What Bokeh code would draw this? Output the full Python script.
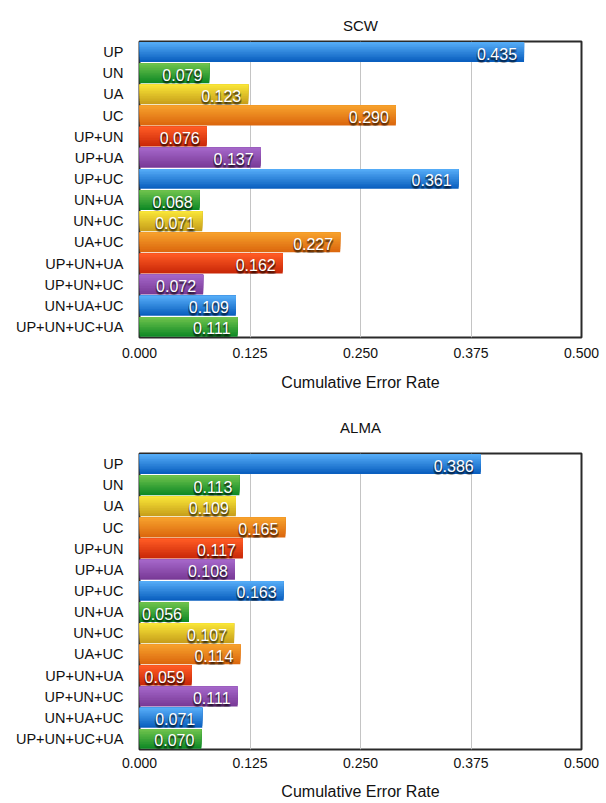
from bokeh.plotting import figure
from bokeh.models import ColumnDataSource, FactorRange, Range1d, FixedTicker
from bokeh.transform import dodge
from bokeh.layouts import column
from bokeh.core.properties import value
from bokeh.embed import file_html
from bokeh.resources import INLINE

# ---- data ----
categories = ["UP", "UN", "UA", "UC", "UP+UN", "UP+UA", "UP+UC", "UN+UA",
              "UN+UC", "UA+UC", "UP+UN+UA", "UP+UN+UC", "UN+UA+UC", "UP+UN+UC+UA"]
scw_values = [0.435, 0.079, 0.123, 0.290, 0.076, 0.137, 0.361, 0.068,
              0.071, 0.227, 0.162, 0.072, 0.109, 0.111]
alma_values = [0.386, 0.113, 0.109, 0.165, 0.117, 0.108, 0.163, 0.056,
               0.107, 0.114, 0.059, 0.111, 0.071, 0.070]
x_ticks = [0.0, 0.125, 0.25, 0.375, 0.5]
x_tick_labels = ["0.000", "0.125", "0.250", "0.375", "0.500"]
axis_title = "Cumulative Error Rate"

# ---- style ----
palette = [  # (top, bottom) gradient colours
    ("#54abf6", "#0a5fbf"),  # blue
    ("#6ec24c", "#0f8a26"),  # green
    ("#f8e437", "#c89f1b"),  # yellow
    ("#f6a02c", "#dc680e"),  # orange
    ("#ff5b24", "#c92808"),  # red
    ("#a466c8", "#793a97"),  # purple
]
FONT = "Liberation Sans"
N_LAYERS = 12
BAR_H = 0.94


def h2rgb(h):
    h = h.lstrip("#")
    return tuple(int(h[i:i + 2], 16) for i in (0, 2, 4))


def mix(c_bottom, c_top, t):
    a, b = h2rgb(c_bottom), h2rgb(c_top)
    return "#%02x%02x%02x" % tuple(int(round(a[i] + (b[i] - a[i]) * t)) for i in range(3))


def make_chart(title, vals, height, top_border, bottom_border, tick_standoff, lab_standoff,
               title_standoff, title_valign):
    p = figure(width=606, height=height,
               y_range=FactorRange(factors=categories[::-1]),
               x_range=Range1d(0, 0.5),
               output_backend="svg", toolbar_location=None, title=title,
               min_border_left=139, min_border_right=25,
               min_border_top=top_border, min_border_bottom=bottom_border)
    p.title.text_font = FONT
    p.title.text_font_size = "15px"
    p.title.text_font_style = "normal"
    p.title.text_color = "#111111"
    p.title.align = "center"
    p.title.vertical_align = title_valign
    p.title.standoff = title_standoff

    # gradient bars: nested layers anchored at the bar top
    for k in range(N_LAYERS):
        frac = (N_LAYERS - k) / N_LAYERS
        hk = BAR_H * frac
        off = BAR_H / 2 - hk / 2
        t = k / (N_LAYERS - 1)
        cols = [mix(palette[i % 6][1], palette[i % 6][0], t) for i in range(len(categories))]
        src = ColumnDataSource(dict(cat=categories, val=vals, col=cols))
        p.hbar(y=dodge("cat", off, range=p.y_range), right="val", left=0, height=hk,
               fill_color="col", line_color=None, source=src)

    labels = ["%.3f" % v for v in vals]
    lsrc = ColumnDataSource(dict(cat=categories, val=vals, lab=labels))
    # blurred shadow
    for dx in (-1, 0, 1):
        for dy in (1, 2, 3):
            p.text(x="val", y="cat", text="lab", source=lsrc, text_align="right",
                   text_baseline="middle", x_offset=-7 + dx, y_offset=1.5 + dy,
                   text_color="black", text_alpha=0.17,
                   text_font=value(FONT), text_font_size="16px")
    p.text(x="val", y="cat", text="lab", source=lsrc, text_align="right",
           text_baseline="middle", x_offset=-7, y_offset=1.5,
           text_color="white", text_font=value(FONT), text_font_size="16px")

    p.outline_line_color = "#2a2a2a"
    p.outline_line_width = 2

    p.ygrid.grid_line_color = None
    p.xgrid.ticker = FixedTicker(ticks=x_ticks)
    p.xgrid.grid_line_color = "#c4c4c4"
    p.xgrid.grid_line_width = 1

    xa = p.xaxis[0]
    xa.ticker = FixedTicker(ticks=x_ticks)
    xa.major_label_overrides = {t: l for t, l in zip(x_ticks, x_tick_labels)}
    xa.axis_line_color = None
    xa.major_tick_line_color = None
    xa.minor_tick_line_color = None
    xa.major_tick_out = 0
    xa.major_tick_in = 0
    xa.major_label_standoff = tick_standoff
    xa.major_label_text_font = FONT
    xa.major_label_text_font_size = "14px"
    xa.major_label_text_color = "#111111"
    xa.axis_label = axis_title
    xa.axis_label_text_font = FONT
    xa.axis_label_text_font_size = "16px"
    xa.axis_label_text_font_style = "normal"
    xa.axis_label_text_color = "#111111"
    xa.axis_label_standoff = lab_standoff

    ya = p.yaxis[0]
    ya.axis_line_color = None
    ya.major_tick_line_color = None
    ya.minor_tick_line_color = None
    ya.major_tick_out = 0
    ya.major_tick_in = 0
    ya.major_label_standoff = 16
    ya.major_label_text_font = FONT
    ya.major_label_text_font_size = "14.5px"
    ya.major_label_text_color = "#111111"
    return p


p1 = make_chart("SCW", scw_values, 397, 41, 60, 10, 13, 11, "top")
p2 = make_chart("ALMA", alma_values, 406, 56, 54, 8, 12, 36, "bottom")

layout = column(p1, p2, spacing=0)
open("out.html", "w").write(file_html(layout, INLINE))
